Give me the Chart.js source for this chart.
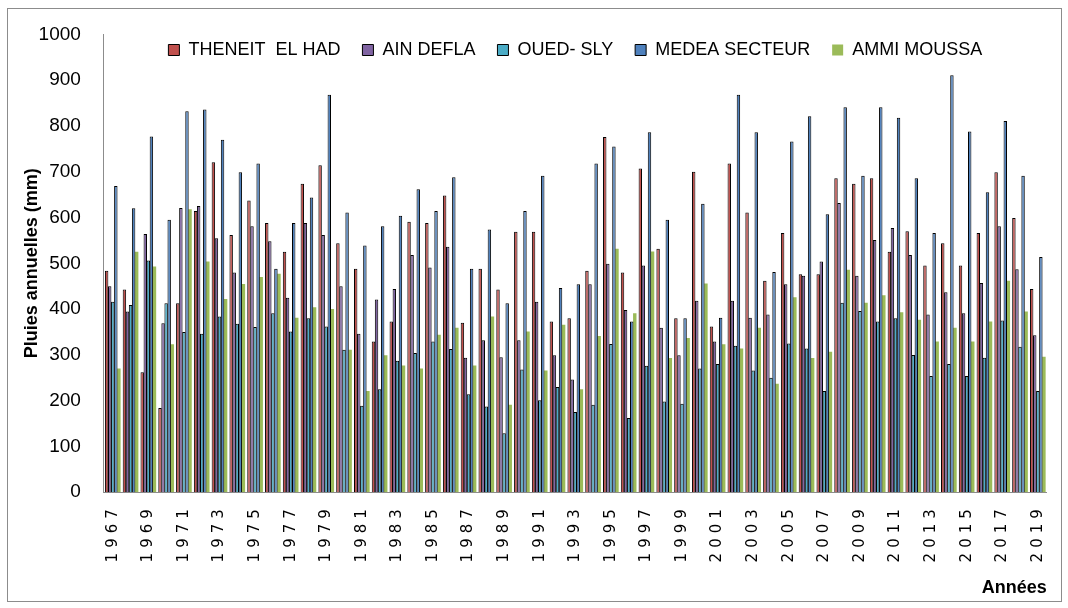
<!DOCTYPE html>
<html>
<head>
<meta charset="utf-8">
<script src="https://cdn.jsdelivr.net/npm/chart.js@4/dist/chart.umd.min.js"></script>
<style>
    body { margin: 0; background: #fff; }
    #wrap { position: relative; width: 1068px; height: 608px; }
    #frame { position: absolute; left: 7px; top: 8px; width: 1053px; height: 592px; border: 1px solid #8c8c8c; pointer-events: none; }
</style>
</head>
<body>
<div id="wrap">
    <canvas id="pluiesChart"></canvas>
    <div id="frame"></div>
</div>
<script>
const years = [1967, 1968, 1969, 1970, 1971, 1972, 1973, 1974, 1975, 1976,
    1977, 1978, 1979, 1980, 1981, 1982, 1983, 1984, 1985, 1986,
    1987, 1988, 1989, 1990, 1991, 1992, 1993, 1994, 1995, 1996,
    1997, 1998, 1999, 2000, 2001, 2002, 2003, 2004, 2005, 2006,
    2007, 2008, 2009, 2010, 2011, 2012, 2013, 2014, 2015, 2016,
    2017, 2018, 2019];

const theneit = [484, 443, 262, 184, 413, 614, 721, 562, 637, 588,
    525, 674, 714, 544, 488, 329, 373, 591, 588, 648,
    370, 488, 443, 569, 569, 373, 380, 484, 776, 480,
    707, 532, 380, 700, 362, 718, 611, 462, 566, 476,
    476, 686, 674, 686, 525, 570, 495, 544, 495, 566,
    699, 599, 444];

const ainDefla = [450, 395, 564, 369, 621, 625, 555, 480, 581, 548,
    425, 588, 562, 450, 346, 421, 444, 518, 491, 536,
    294, 332, 295, 332, 416, 299, 246, 454, 499, 398,
    495, 359, 299, 418, 329, 418, 381, 388, 454, 473,
    504, 632, 473, 551, 577, 518, 388, 437, 391, 457,
    581, 487, 343];

const ouedSly = [416, 409, 506, 413, 350, 346, 384, 368, 361, 391,
    351, 380, 362, 311, 189, 225, 287, 304, 329, 313,
    214, 187, 129, 268, 201, 230, 175, 191, 324, 162,
    276, 198, 193, 270, 280, 320, 266, 250, 325, 314,
    221, 414, 396, 373, 380, 300, 254, 280, 254, 294,
    375, 318, 221];

const medea = [669, 620, 777, 595, 832, 836, 770, 699, 718, 488,
    588, 644, 868, 611, 539, 581, 604, 662, 614, 688,
    488, 574, 413, 614, 691, 446, 454, 718, 755, 373,
    786, 595, 380, 630, 381, 868, 786, 481, 766, 821,
    607, 841, 691, 841, 818, 686, 566, 911, 788, 655,
    811, 691, 514];

const ammiMoussa = [270, 525, 493, 323, 618, 504, 422, 455, 470, 477,
    381, 404, 400, 311, 221, 299, 277, 270, 344, 359,
    277, 384, 191, 351, 266, 366, 225, 341, 532, 391,
    526, 293, 337, 456, 323, 314, 359, 237, 426, 293,
    307, 486, 414, 430, 393, 377, 329, 359, 329, 373,
    462, 395, 296];

// legend drawn over the plot area, like the original
const legendInside = {
    id: 'legendInside',
    beforeInit(chart) {
        const fit = chart.legend.fit;
        chart.legend.fit = function () {
            fit.call(this);
            this.height = 0;
        };
    },
    afterLayout(chart) {
        chart.legend.top = 19;
        chart.legend.bottom = 70;
    }
};

// spaced-out year labels
const spacedYears = {
    id: 'spacedYears',
    afterLayout(chart) {
        const sx = chart.scales.x;
        if (sx._spaced) return;
        const draw = sx.drawLabels;
        sx.drawLabels = function (area) {
            const c = this.ctx;
            c.save();
            c.letterSpacing = '5px';
            draw.call(this, area);
            c.restore();
        };
        sx._spaced = true;
    }
};

const serie = (label, data, color, border) => ({
    label: label,
    data: data,
    backgroundColor: color,
    borderColor: '#000',
    borderWidth: border ? 1 : 0,
    categoryPercentage: 0.86,
    barPercentage: 1.12
});

new Chart(document.getElementById('pluiesChart').getContext('2d'), {
    type: 'bar',
    data: {
        labels: years.map(String),
        datasets: [
            serie('THENEIT  EL HAD', theneit, '#C0504D', true),
            serie('AIN DEFLA', ainDefla, '#8064A2', true),
            serie('OUED- SLY', ouedSly, '#4BACC6', true),
            serie('MEDEA SECTEUR', medea, '#4F81BD', true),
            serie('AMMI MOUSSA', ammiMoussa, '#9BBB59', false)
        ]
    },
    options: {
        responsive: true,
        maintainAspectRatio: false,
        animation: false,
        layout: {padding: {left: 0, right: 20, top: 33, bottom: 9}},
        plugins: {
            legend: {
                position: 'top',
                fullSize: false,
                labels: {
                    boxWidth: 11,
                    boxHeight: 11,
                    padding: 22,
                    color: '#000',
                    font: {family: 'Liberation Sans', size: 18}
                }
            },
            tooltip: {enabled: false}
        },
        scales: {
            x: {
                grid: {display: false, drawTicks: false},
                border: {display: true, color: '#8c8c8c'},
                ticks: {
                    autoSkip: false,
                    minRotation: 90,
                    maxRotation: 90,
                    padding: 12,
                    color: '#000',
                    font: {family: 'DejaVu Sans', size: 15},
                    callback: (v, i) => i % 2 === 0 ? String(years[i]) : ''
                },
                title: {
                    display: true,
                    text: 'Années',
                    align: 'end',
                    color: '#000',
                    font: {family: 'Liberation Sans', size: 18, weight: 'bold'},
                    padding: {top: 23, bottom: 0}
                }
            },
            y: {
                min: 0,
                max: 1000,
                grid: {display: false, drawTicks: false},
                border: {display: true, color: '#8c8c8c'},
                ticks: {
                    stepSize: 100,
                    padding: 23,
                    color: '#000',
                    font: {family: 'Liberation Sans', size: 19},
                    callback: v => String(v)
                },
                title: {
                    display: true,
                    text: 'Pluies annuelles (mm)',
                    color: '#000',
                    font: {family: 'Liberation Sans', size: 18, weight: 'bold'},
                    padding: {top: 21, bottom: -27}
                }
            }
        }
    },
    plugins: [legendInside, spacedYears]
});
</script>
</body>
</html>
